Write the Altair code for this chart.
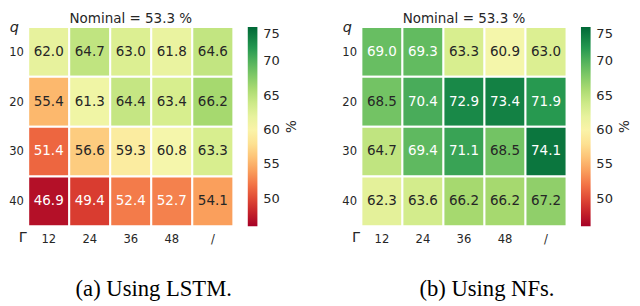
import altair as alt
import pandas as pd

gamma = ["12", "24", "36", "48", "/"]
q_vals = ["10", "20", "30", "40"]

lstm = [
    [62.0, 64.7, 63.0, 61.8, 64.6],
    [55.4, 61.3, 64.4, 63.4, 66.2],
    [51.4, 56.6, 59.3, 60.8, 63.3],
    [46.9, 49.4, 52.4, 52.7, 54.1],
]
nfs = [
    [69.0, 69.3, 63.3, 60.9, 63.0],
    [68.5, 70.4, 72.9, 73.4, 71.9],
    [64.7, 69.4, 71.1, 68.5, 74.1],
    [62.3, 63.6, 66.2, 66.2, 67.2],
]
panel_title = "Nominal = 53.3 %"
captions = ["(a) Using LSTM.", "(b) Using NFs."]
legend_ticks = [50, 55, 60, 65, 70, 75]
color_domain = [46, 75]
unit_label = ["%"]

DARK = "#262626"
SANS = "DejaVu Sans"
SERIF = '"Liberation Serif", "Times New Roman", Times, serif'

W = 213
H = 207


def frame(mat):
    rows = []
    for i, q in enumerate(q_vals):
        for j, g in enumerate(gamma):
            rows.append({"q": q, "g": g, "v": mat[i][j]})
    return pd.DataFrame(rows)


def panel(mat, caption):
    df = frame(mat)
    base = alt.Chart(df).encode(
        x=alt.X(
            "g:N",
            sort=gamma,
            axis=alt.Axis(
                title="Γ", orient="bottom", labelAngle=0, labelFontSize=12,
                labelPadding=8, titleX=-2, titleY=16, titleAlign="right",
                titleBaseline="alphabetic", titleFontSize=15,
                titleFontWeight="normal", titleAngle=0,
            ),
        ),
        y=alt.Y(
            "q:N",
            sort=q_vals,
            axis=alt.Axis(
                title="q", labelFontSize=12, labelPadding=5, titleAngle=0,
                titleX=-15, titleY=5, titleAlign="center",
                titleBaseline="alphabetic", titleFontSize=15,
                titleFontStyle="italic", titleFontWeight="normal",
            ),
        ),
    )
    rect = base.mark_rect(stroke="white", strokeWidth=2).encode(
        color=alt.Color(
            "v:Q",
            scale=alt.Scale(scheme="redyellowgreen", domain=color_domain, nice=False),
            legend=alt.Legend(
                title=None, values=legend_ticks, gradientLength=H,
                gradientThickness=10, orient="none", legendX=W + 15, legendY=0,
                labelFontSize=13.5, labelOffset=6, labelBaseline="middle",
                labelColor=DARK, labelFont=SANS,
            ),
        )
    )
    text = base.mark_text(fontSize=14, font=SANS).encode(
        text=alt.Text("v:Q", format=".1f"),
        color=alt.condition(
            "datum.v < 53.5 || datum.v > 68.8", alt.value("white"), alt.value(DARK)
        ),
    )
    unit = (
        alt.Chart(pd.DataFrame({"t": unit_label}))
        .mark_text(angle=270, fontSize=14, font=SANS, color=DARK)
        .encode(text="t:N", x=alt.value(W + 61), y=alt.value(H / 2))
    )
    layer = alt.layer(rect, text, unit).properties(
        width=W,
        height=H,
        title=alt.Title(panel_title, fontSize=14, offset=-6, fontWeight="normal",
                        anchor="middle", color=DARK, font=SANS),
    )
    return alt.hconcat(
        layer,
        title=alt.Title(caption, orient="bottom", font=SERIF,
                        fontSize=23.5, fontWeight="normal", offset=34,
                        anchor="middle", color="black"),
    )


chart = (
    alt.hconcat(panel(lstm, captions[0]), panel(nfs, captions[1]), spacing=44)
    .resolve_scale(color="independent")
    .properties(padding={"top": -1, "left": 0, "right": 0, "bottom": 0})
    .configure_view(stroke=None)
    .configure_axis(domain=False, ticks=False, labelColor=DARK, titleColor=DARK,
                    labelFont=SANS, titleFont=SANS)
)

chart.save("out.html", embed_options={"renderer": "svg", "actions": False})
